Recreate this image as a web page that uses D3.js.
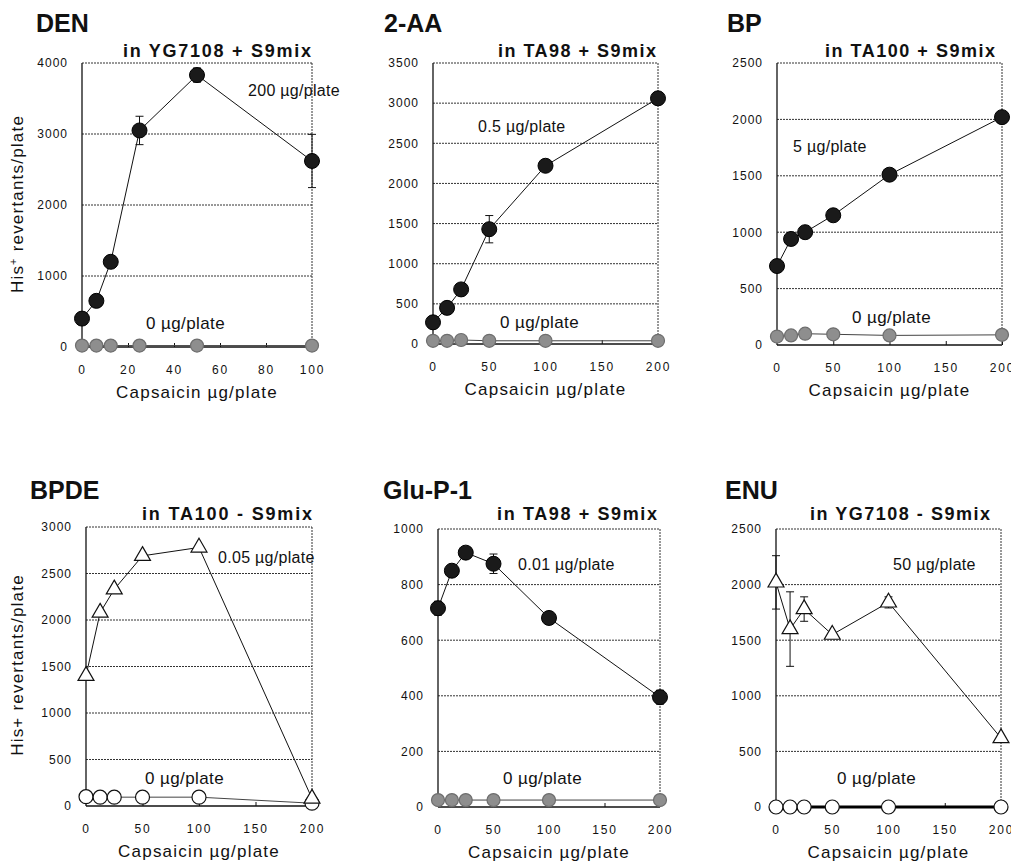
<!DOCTYPE html>
<html>
<head>
<meta charset="utf-8">
<script src="https://cdn.jsdelivr.net/npm/d3@7"></script>
<style>
  body { margin: 0; background: #fff; }
  svg { display: block; }
  text { font-family: Arial, "Liberation Sans", sans-serif; fill: #111; }
</style>
</head>
<body>
<svg id="chart" width="1011" height="864"></svg>
<script>
// ---- data ----
const mutagens = ['DEN', '2-AA', 'BP', 'BPDE', 'Glu-P-1', 'ENU'];
const conditions = ['in YG7108 + S9mix', 'in TA98 + S9mix', 'in TA100 + S9mix',
                    'in TA100 - S9mix', 'in TA98 + S9mix', 'in YG7108 - S9mix'];
const mutagenDoseLabels = ['200 µg/plate', '0.5 µg/plate', '5 µg/plate',
                           '0.05 µg/plate', '0.01 µg/plate', '50 µg/plate'];
const controlLabel = '0 µg/plate';

const capsaicinDEN = [0, 6.25, 12.5, 25, 50, 100];
const capsaicin = [0, 12.5, 25, 50, 100, 200];
const xTicksDEN = [0, 20, 40, 60, 80, 100];
const xTicks = [0, 50, 100, 150, 200];

const yMaxes = [4000, 3500, 2500, 3000, 1000, 2500];
const ySteps = [1000, 500, 500, 500, 200, 500];

const treated = [
  [400, 650, 1200, 3050, 3830, 2620],
  [270, 450, 680, 1430, 2220, 3060],
  [700, 940, 1000, 1150, 1510, 2020],
  [1400, 2080, 2330, 2690, 2780, 80],
  [715, 850, 915, 875, 680, 395],
  [2020, 1600, 1780, 1550, 1840, 620]
];
const treatedSD = [
  [0, 0, 85, 200, 100, 375],
  [0, 0, 0, 170, 0, 0],
  [0, 0, 0, 0, 0, 0],
  [0, 0, 0, 0, 0, 0],
  [25, 0, 0, 35, 20, 25],
  [240, 335, 110, 0, 50, 0]
];
const control = [
  [20, 20, 20, 20, 20, 20],
  [40, 40, 50, 40, 40, 40],
  [75, 85, 100, 95, 85, 90],
  [100, 95, 95, 95, 95, 30],
  [25, 25, 25, 25, 25, 25],
  [0, 0, 0, 0, 0, 0]
];

// ---- layout / style ----
const frames = [
  { x0: 82, x1: 312, y0: 63, y1: 347 },
  { x0: 433, x1: 658, y0: 63, y1: 344 },
  { x0: 777, x1: 1002, y0: 63, y1: 345 },
  { x0: 86, x1: 312, y0: 527, y1: 806 },
  { x0: 438, x1: 660, y0: 529, y1: 807 },
  { x0: 776, x1: 1001, y0: 529, y1: 807 }
];
const titlePos = [[36, 32], [384, 32], [727, 32], [30, 499], [383, 499], [725, 499]];
const subtitleEnd = [[311, 57], [656, 57], [995, 57], [312, 520], [657, 520], [990, 520]];
const subtitleLen = [188, 158, 170, 170, 160, 180];
const doseLabelPos = [[248, 96], [478, 132], [793, 152], [218, 563], [518, 570], [893, 570]];
const controlLabelPos = [[146, 329], [500, 328], [852, 323], [145, 784], [503, 784], [837, 784]];
const treatedShape = ['dot', 'dot', 'dot', 'tri', 'dot', 'tri'];
const controlShape = ['gray', 'gray', 'gray', 'open', 'gray', 'open'];

const svg = d3.select('#chart');

mutagens.forEach((name, i) => {
  const f = frames[i];
  const doses = i === 0 ? capsaicinDEN : capsaicin;
  const xt = i === 0 ? xTicksDEN : xTicks;
  const x = d3.scaleLinear().domain([0, xt[xt.length - 1]]).range([f.x0, f.x1]);
  const y = d3.scaleLinear().domain([0, yMaxes[i]]).range([f.y1, f.y0]);
  const yt = d3.range(0, yMaxes[i] + 1, ySteps[i]);
  const g = svg.append('g');

  // dotted grid lines + top/right frame
  g.selectAll('line.grid').data(yt.slice(1)).enter().append('line')
    .attr('x1', f.x0).attr('x2', f.x1)
    .attr('y1', d => y(d)).attr('y2', d => y(d))
    .attr('stroke', '#333').attr('stroke-width', 1)
    .attr('stroke-dasharray', '2,1');
  g.append('line')
    .attr('x1', f.x1).attr('x2', f.x1).attr('y1', f.y0).attr('y2', f.y1)
    .attr('stroke', '#333').attr('stroke-dasharray', '2,1');

  // axes
  const xAxis = g.append('g').attr('transform', `translate(0,${f.y1})`)
    .call(d3.axisBottom(x).tickValues(xt).tickFormat(d3.format('d'))
      .tickSizeInner(-4).tickSizeOuter(0).tickPadding(18));
  const yAxis = g.append('g').attr('transform', `translate(${f.x0},0)`)
    .call(d3.axisLeft(y).tickValues(yt).tickFormat(d3.format('d'))
      .tickSize(0).tickPadding(14));
  [xAxis, yAxis].forEach(a => {
    a.select('.domain').remove();
    a.selectAll('text').attr('font-size', 12)
      .attr('font-family', 'Arial, "Liberation Sans", sans-serif').attr('fill', '#111');
    a.selectAll('line').attr('stroke', '#111');
  });
  yAxis.selectAll('text').attr('letter-spacing', 1);
  xAxis.selectAll('text').attr('letter-spacing', 1.8);
  xAxis.selectAll('.tick').filter(d => d === 0).select('line').remove();
  g.append('line').attr('x1', f.x0).attr('x2', f.x1).attr('y1', f.y1).attr('y2', f.y1)
    .attr('stroke', '#111').attr('stroke-width', 1.3);
  g.append('line').attr('x1', f.x0).attr('x2', f.x0).attr('y1', f.y0).attr('y2', f.y1)
    .attr('stroke', '#111').attr('stroke-width', 1.3);

  // axis title
  g.append('text')
    .attr('x', (f.x0 + f.x1) / 2).attr('y', f.y1 + 51)
    .attr('text-anchor', 'middle').attr('font-size', 17).attr('letter-spacing', 1.2)
    .text('Capsaicin µg/plate');

  // titles
  g.append('text').attr('x', titlePos[i][0]).attr('y', titlePos[i][1])
    .attr('font-size', 25).attr('font-weight', 'bold').text(name);
  g.append('text').attr('x', subtitleEnd[i][0]).attr('y', subtitleEnd[i][1])
    .attr('text-anchor', 'end').attr('font-size', 18).attr('font-weight', 'bold')
    .attr('textLength', subtitleLen[i]).attr('lengthAdjust', 'spacing')
    .text(conditions[i]);

  g.append('text').attr('x', doseLabelPos[i][0]).attr('y', doseLabelPos[i][1])
    .attr('font-size', 16).attr('letter-spacing', 0.3).text(mutagenDoseLabels[i]);
  g.append('text').attr('x', controlLabelPos[i][0]).attr('y', controlLabelPos[i][1])
    .attr('font-size', 17).attr('letter-spacing', 0.4).text(controlLabel);

  const line = d3.line().x(d => x(d[0])).y(d => y(d[1]));
  const ctrlPts = doses.map((d, k) => [d, control[i][k]]);
  const trtPts = doses.map((d, k) => [d, treated[i][k], treatedSD[i][k]]);

  // control series
  g.append('path').datum(ctrlPts).attr('d', line).attr('fill', 'none')
    .attr('stroke', i === 5 ? '#000' : '#444')
    .attr('stroke-width', i === 5 ? 3 : 1);
  g.selectAll('circle.ctrl').data(ctrlPts).enter().append('circle')
    .attr('cx', d => x(d[0])).attr('cy', d => y(d[1]))
    .attr('r', controlShape[i] === 'open' ? 7 : 6.5)
    .attr('fill', controlShape[i] === 'open' ? '#fff' : '#8e8e8e')
    .attr('stroke', controlShape[i] === 'open' ? '#111' : '#6e6e6e')
    .attr('stroke-width', 1.2);

  // treated series
  g.append('path').datum(trtPts).attr('d', line).attr('fill', 'none')
    .attr('stroke', '#111').attr('stroke-width', 1);
  const eb = g.selectAll('g.err').data(trtPts.filter(d => d[2] > 0)).enter().append('g');
  eb.append('line').attr('x1', d => x(d[0])).attr('x2', d => x(d[0]))
    .attr('y1', d => y(d[1] - d[2])).attr('y2', d => y(d[1] + d[2]))
    .attr('stroke', '#111');
  [-1, 1].forEach(s => {
    eb.append('line').attr('x1', d => x(d[0]) - 4).attr('x2', d => x(d[0]) + 4)
      .attr('y1', d => y(d[1] + s * d[2])).attr('y2', d => y(d[1] + s * d[2]))
      .attr('stroke', '#111');
  });
  if (treatedShape[i] === 'tri') {
    g.selectAll('path.tri').data(trtPts).enter().append('path')
      .attr('d', d3.symbol(d3.symbolTriangle, 110))
      .attr('transform', d => `translate(${x(d[0])},${y(d[1])})`)
      .attr('fill', '#fff').attr('stroke', '#111').attr('stroke-width', 1.2);
  } else {
    g.selectAll('circle.trt').data(trtPts).enter().append('circle')
      .attr('cx', d => x(d[0])).attr('cy', d => y(d[1])).attr('r', 7.5)
      .attr('fill', '#1a1a1a').attr('stroke', '#000');
  }
});

// shared y titles
const yTitle = (cy, sup) => {
  const t = svg.append('text')
    .attr('transform', `translate(23,${cy}) rotate(-90)`)
    .attr('text-anchor', 'middle').attr('font-size', 17).attr('letter-spacing', 1.2);
  t.append('tspan').text('His');
  if (sup) {
    t.append('tspan').attr('baseline-shift', 'super').attr('font-size', 11).text('+');
    t.append('tspan').text(' revertants/plate');
  } else {
    t.append('tspan').text('+ revertants/plate');
  }
};
yTitle(204, true);
yTitle(665, false);
</script>
</body>
</html>
